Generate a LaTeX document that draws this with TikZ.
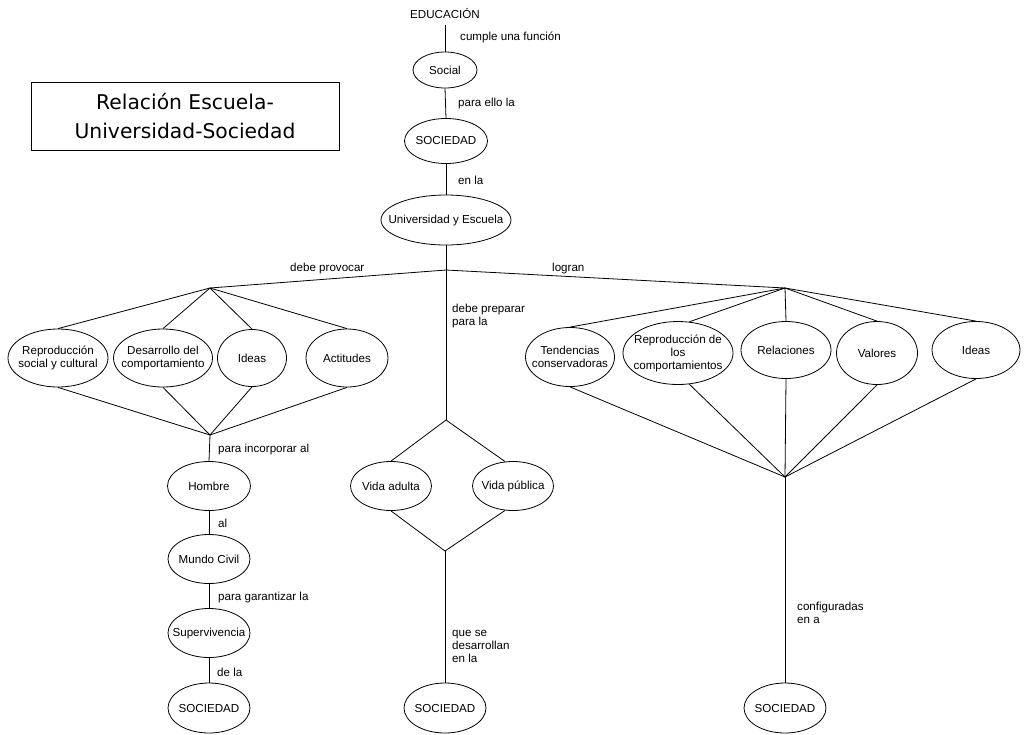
\documentclass[tikz,border=0pt]{standalone}
\usepackage{fontspec}
\setmainfont{Liberation Sans}
\newfontfamily\titlefont{DejaVu Sans}
\usetikzlibrary{shapes.geometric}
\newcommand{\lblfont}{\fontsize{11.6}{13}\selectfont}
\tikzset{
  oval/.style 2 args={ellipse, draw, line width=0.8pt, inner sep=0pt,
    minimum width=#1, minimum height=#2},
  ovaltext/.style={inner sep=0pt, font=\lblfont, align=center},
  lab/.style={anchor=west, inner sep=0pt, font=\lblfont, align=left},
  conn/.style={line width=0.8pt}
}
% fixed-size ellipse with its text set on top: name, position, width, height, text
\newcommand{\ovl}[5]{%
  \node[oval={#3}{#4}] (#1) at (#2) {};
  \node[ovaltext] (#1-t) at (#1.center) {#5};}
\begin{document}
\begin{tikzpicture}[x=1pt, y=-1pt]
\useasboundingbox (0,0) rectangle (1024,734);

% title box
\node[draw, line width=0.8pt, minimum width=308, minimum height=68, inner sep=0pt,
  font=\titlefont\fontsize{20.3}{29}\selectfont, align=center]
  (title) at (185,116) {Relación Escuela-\\Universidad-Sociedad};

% central spine
\node[inner sep=0pt, font=\lblfont] (edu) at (445,14) {EDUCACIÓN};
\ovl{soc}{445,70}{64}{36}{Social}
\ovl{sa}{446,141}{83}{45}{SOCIEDAD}
\ovl{ue}{446,220}{130}{50}{Universidad y Escuela}

\coordinate (e0) at (445,25);
\coordinate (j0) at (446,270);
\coordinate (jl) at (210,288);
\coordinate (jr) at (785,288);
\coordinate (jlb) at (210,435);
\coordinate (jmt) at (446,420);
\coordinate (jmb) at (445,551);
\coordinate (jrb) at (785,477);

\draw[conn] (e0) -- (soc.north);
\draw[conn] (soc.south) -- (sa.north);
\draw[conn] (sa.south) -- (ue.north);
\draw[conn] (ue.south) -- (j0);
\draw[conn] (j0) -- (jl);
\draw[conn] (j0) -- (jr);
\draw[conn] (j0) -- (jmt);

\node[lab] (l1) at (460,37) {cumple una función};
\node[lab] (l2) at (458,103) {para ello la};
\node[lab] (l3) at (458,180) {en la};
\node[lab] (l4) at (290,268) {debe provocar};
\node[lab] (l5) at (552,268) {logran};
\node[lab] (l6) at (452,316) {debe preparar\\para la};

% left branch
\ovl{rs}{58,358}{100}{58}{Reproducción\\social y cultural}
\ovl{dc}{163,358}{99}{58}{Desarrollo del\\comportamiento}
\ovl{il}{252,358}{69}{57}{Ideas}
\ovl{ac}{347,358}{82}{58}{Actitudes}

\foreach \n in {rs,dc,il,ac}{
  \draw[conn] (jl) -- (\n.north);
  \draw[conn] (\n.south) -- (jlb);
}

\ovl{ho}{209,486}{83}{49}{Hombre}
\ovl{mc}{209,559}{82}{49}{Mundo Civil}
\ovl{su}{209,633}{82}{49}{Supervivencia}
\ovl{sl}{209,708}{82}{50}{SOCIEDAD}

\draw[conn] (jlb) -- (ho.north);
\draw[conn] (ho.south) -- (mc.north);
\draw[conn] (mc.south) -- (su.north);
\draw[conn] (su.south) -- (sl.north);

\node[lab] (l7) at (218,449) {para incorporar al};
\node[lab] (l8) at (218,523) {al};
\node[lab] (l9) at (218,597) {para garantizar la};
\node[lab] (l10) at (217,672) {de la};

% middle branch
\ovl{va}{391,486}{81}{49}{Vida adulta}
\ovl{vp}{513,486}{81}{49}{Vida pública}
\ovl{sm}{445,708}{82}{50}{SOCIEDAD}

\draw[conn] (jmt) -- (va.north);
\draw[conn] (jmt) -- (vp.108);
\draw[conn] (va.south) -- (jmb);
\draw[conn] (vp.252) -- (jmb);
\draw[conn] (jmb) -- (sm.north);

\node[lab] (l11) at (452,646) {que se\\desarrollan\\en la};

% right branch
\ovl{tc}{570,357}{89}{59}{Tendencias\\conservadoras}
\ovl{rc}{678,353}{110}{63}{Reproducción de\\los\\comportamientos}
\ovl{re}{786,350}{90}{57}{Relaciones}
\ovl{vl}{877,353}{81}{63}{Valores}
\ovl{ir}{976,350}{88}{57}{Ideas}

\draw[conn] (jr) -- (tc.north);
\draw[conn] (jr) -- (rc.70);
\draw[conn] (jr) -- (re.north);
\draw[conn] (jr) -- (vl.north);
\draw[conn] (jr) -- (ir.north);
\draw[conn] (tc.south) -- (jrb);
\draw[conn] (rc.-70) -- (jrb);
\draw[conn] (re.south) -- (jrb);
\draw[conn] (vl.south) -- (jrb);
\draw[conn] (ir.south) -- (jrb);

\ovl{sr}{785,708}{82}{50}{SOCIEDAD}
\draw[conn] (jrb) -- (sr.north);

\node[lab] (l12) at (797,613) {configuradas\\en a};
\end{tikzpicture}
\end{document}
